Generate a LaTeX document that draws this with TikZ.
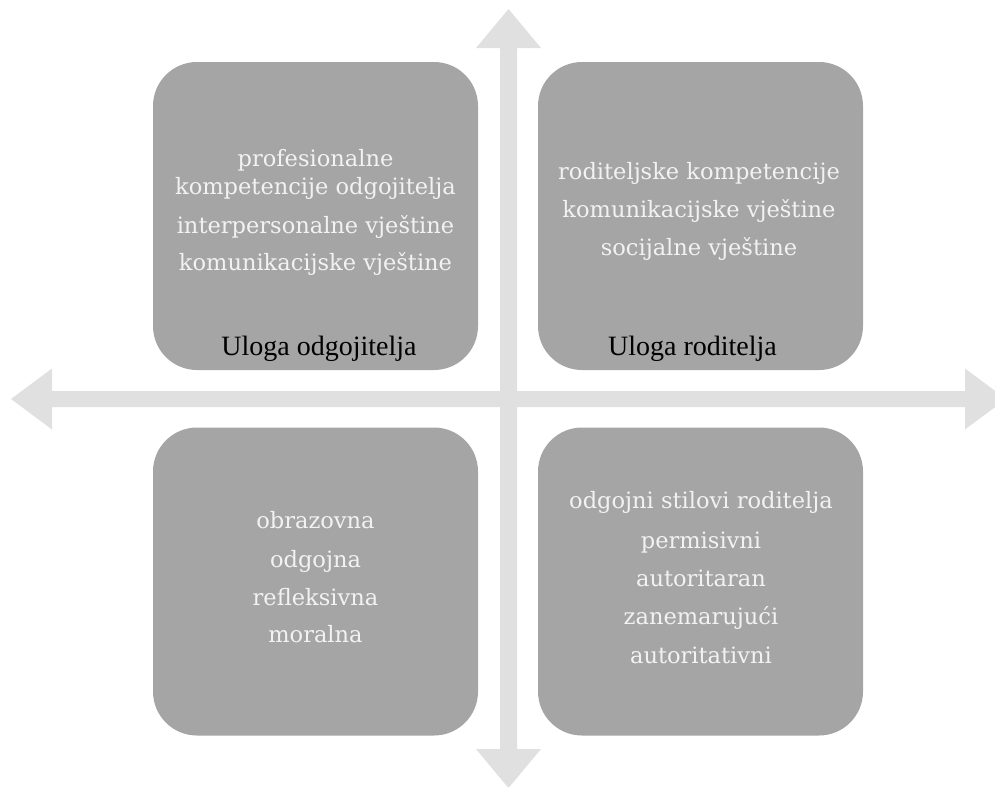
\documentclass[tikz,border=0pt]{standalone}
\usepackage{fontspec}
\newfontfamily\wfont{DejaVu Serif}
\newfontfamily\bfont{Liberation Serif}
\definecolor{boxgray}{HTML}{A5A5A5}
\definecolor{axisgray}{HTML}{E0E0E0}
\definecolor{wtxt}{HTML}{F2F2F2}
\begin{document}
\begin{tikzpicture}[x=0.75pt,y=-0.75pt,
  quadbox/.style={fill=boxgray, draw=none, rounded corners=33pt, minimum width=243.75pt, minimum height=231pt, inner sep=0pt},
  wline/.style={font=\wfont\fontsize{16.9}{20}\selectfont, text=wtxt, anchor=base, inner sep=0pt},
  bline/.style={font=\bfont\fontsize{21}{24}\selectfont, text=black, anchor=base, inner sep=0pt}]
\useasboundingbox (0,0) rectangle (995,786);
\clip (0,0) rectangle (995,786);
% axes
\fill[axisgray] (508.5,9) -- (541,48) -- (517,48) -- (517,749) -- (541,749) -- (508.5,788) -- (476,749) -- (500,749) -- (500,48) -- (476,48) -- cycle;
\fill[axisgray] (11,399) -- (52,368.5) -- (52,391) -- (965,391) -- (965,368.5) -- (1006,399) -- (965,429.5) -- (965,407) -- (52,407) -- (52,429.5) -- cycle;
% boxes
\node[quadbox] (tl) at (315.5,216) {};
\node[quadbox] (tr) at (700.5,216) {};
\node[quadbox] (bl) at (315.5,581.5) {};
\node[quadbox] (br) at (700.5,581.5) {};
% top-left text
\node[wline] (tl1) at (315.5,166.7) {profesionalne};
\node[wline] (tl2) at (315.5,194) {kompetencije odgojitelja};
\node[wline] (tl3) at (315.5,233) {interpersonalne vještine};
\node[wline] (tl4) at (315.5,270) {komunikacijske vještine};
\node[bline] (tlt) at (319,355) {Uloga odgojitelja};
% top-right text
\node[wline] (tr1) at (699,179) {roditeljske kompetencije};
\node[wline] (tr2) at (699,217) {komunikacijske vještine};
\node[wline] (tr3) at (699,255) {socijalne vještine};
\node[bline] (trt) at (692.5,355) {Uloga roditelja};
% bottom-left text
\node[wline] (bl1) at (315.5,528) {obrazovna};
\node[wline] (bl2) at (315.5,567) {odgojna};
\node[wline] (bl3) at (315.5,605) {refleksivna};
\node[wline] (bl4) at (315.5,642) {moralna};
% bottom-right text
\node[wline] (br1) at (701,508) {odgojni stilovi roditelja};
\node[wline] (br2) at (701,548) {permisivni};
\node[wline] (br3) at (701,586) {autoritaran};
\node[wline] (br4) at (701,624) {zanemarujući};
\node[wline] (br5) at (701,663) {autoritativni};
\end{tikzpicture}
\end{document}
